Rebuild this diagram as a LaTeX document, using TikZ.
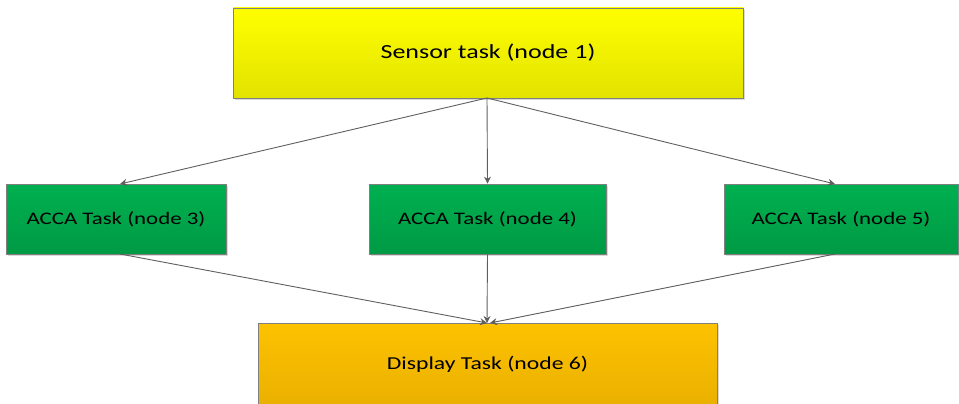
\documentclass[tikz,border=0pt]{standalone}
\usepackage{fontspec}
\setmainfont{Carlito}
\newfontfamily\boxfont[FakeStretch=1.3]{Carlito}
\usetikzlibrary{arrows.meta,shadows}
\definecolor{lineg}{HTML}{5F5F5F}
\definecolor{yelTop}{HTML}{FFFF00}
\definecolor{yelBot}{HTML}{E2E200}
\definecolor{grnTop}{HTML}{00B050}
\definecolor{grnBot}{HTML}{009A44}
\definecolor{orgTop}{HTML}{FDC200}
\definecolor{orgBot}{HTML}{E0A600}
\tikzset{
  taskbox/.style={draw=lineg!80, line width=0.8pt, inner sep=0pt,
    font=\boxfont\fontsize{17.6}{20}\selectfont, text=black,
    drop shadow={shadow xshift=2pt, shadow yshift=-2pt, opacity=0.25, fill=black!60}},
  flow/.style={draw=lineg, line width=0.9pt, -{Stealth[length=7pt,width=7pt]}}
}
\begin{document}
\begin{tikzpicture}[x=1pt,y=-1pt]
  \useasboundingbox (0,0) rectangle (959,404);
  \clip (0,0) rectangle (959,404);
  % task boxes
  \node[taskbox, top color=yelTop, bottom color=yelBot,
        font=\boxfont\fontsize{20}{24}\selectfont,
        minimum width=510pt, minimum height=90pt] (sensor) at (488,53) {Sensor task (node 1)};
  \node[taskbox, top color=grnTop, bottom color=grnBot,
        minimum width=220pt, minimum height=70pt] (acca3) at (116,219) {ACCA Task (node 3)};
  \node[taskbox, top color=grnTop, bottom color=grnBot,
        minimum width=237pt, minimum height=70pt] (acca4) at (487.5,219) {ACCA Task (node 4)};
  \node[taskbox, top color=grnTop, bottom color=grnBot,
        minimum width=234pt, minimum height=70pt] (acca5) at (841,219) {ACCA Task (node 5)};
  \node[taskbox, top color=orgTop, bottom color=orgBot,
        minimum width=459pt, minimum height=130pt] (disp) at (487.5,388) {};
  \node[font=\boxfont\fontsize{18.2}{22}\selectfont] (displabel) at (487.5,364) {Display Task (node 6)};
  % anchor points on the box edges
  \coordinate (s0) at (487,98);
  \coordinate (t3) at (120,184);
  \coordinate (t5) at (835,184);
  \coordinate (b3) at (120,254);
  \coordinate (b5) at (835,254);
  \coordinate (d0) at (487,323);
  \coordinate (d1) at (490,323);
  % connectors
  \draw[flow] (s0) -- (t3);
  \draw[flow] (s0) -- (acca4.north);
  \draw[flow] (s0) -- (t5);
  \draw[flow] (b3) -- (d0);
  \draw[flow] (acca4.south) -- (d0);
  \draw[flow] (b5) -- (d1);
\end{tikzpicture}
\end{document}
